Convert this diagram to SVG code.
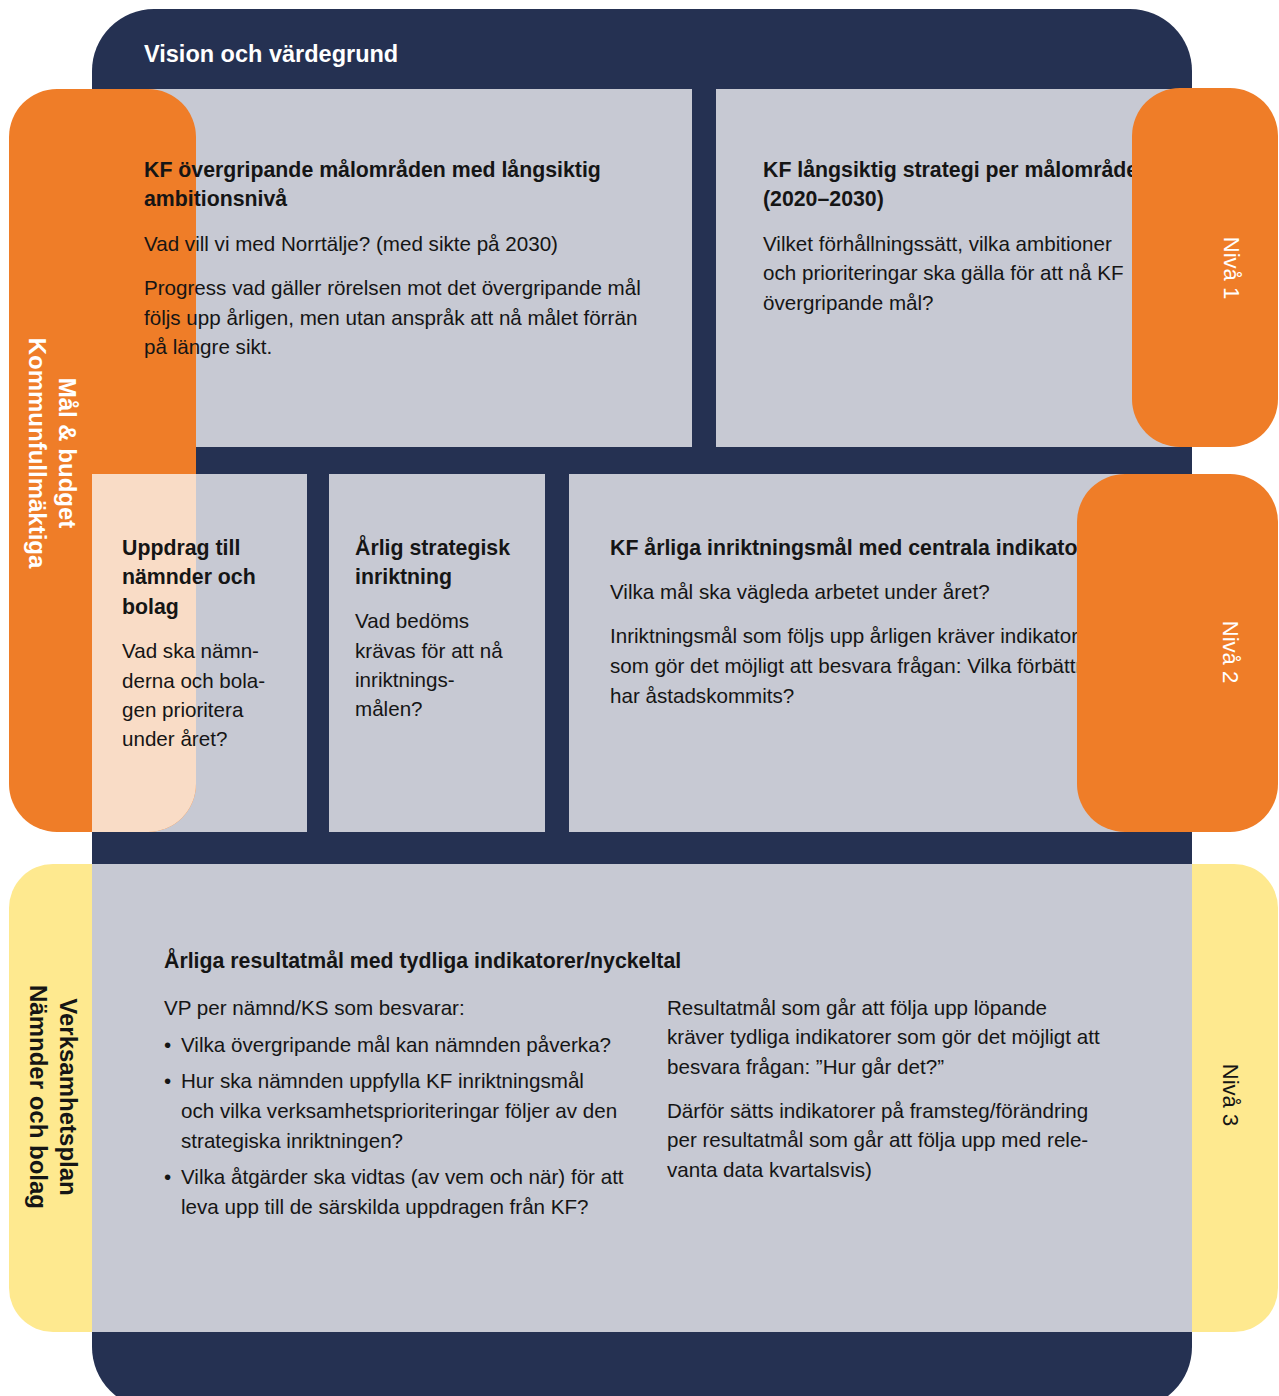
<svg xmlns="http://www.w3.org/2000/svg" width="1279" height="1396" viewBox="0 0 1279 1396">
<style>
text{font-family:"Liberation Sans",Arial,Helvetica,sans-serif;fill:#151515}
.b{font-weight:bold;font-size:21.3px}
.r{font-size:20.6px}
.w{fill:#ffffff}
.tab{font-family:"Liberation Sans",Arial,sans-serif;font-weight:bold;font-size:24px}
.niva{font-size:22px}
.navy{fill:#253152}
.gray{fill:#C7C9D3}
.orange{fill:#EF7D28}
.yellow{fill:#FEE98F}
</style>
<rect width="1279" height="1396" fill="#ffffff"/>
<g id="frame">
<rect class="navy" x="92" y="9" width="1100" height="1400" rx="62"/>
<text class="w" x="144" y="62" font-weight="bold" font-size="23.5">Vision och värdegrund</text>
</g>
<g id="panels">
<rect id="p-top-left" class="gray" x="92" y="89" width="600" height="358"/>
<rect id="p-top-right" class="gray" x="716" y="89" width="476" height="358"/>
<rect id="p-mid-1" class="gray" x="92" y="474" width="215" height="358"/>
<rect id="p-mid-2" class="gray" x="329" y="474" width="216" height="358"/>
<rect id="p-mid-3" class="gray" x="569" y="474" width="623" height="358"/>
<path id="yellow-left" class="yellow" d="M92,864 H53 A44,44 0 0 0 9,908 V1288 A44,44 0 0 0 53,1332 H92 Z"/>
<path id="yellow-right" class="yellow" d="M1192,864 H1234 A44,44 0 0 1 1278,908 V1288 A44,44 0 0 1 1234,1332 H1192 Z"/>
<rect id="p-bottom" class="gray" x="92" y="864" width="1100" height="468"/>
</g>
<g id="tab-left">
<rect class="orange" x="9" y="89" width="187" height="743" rx="48"/>
<path fill="#F9DCC6" d="M92,474 H196 V784 A48,48 0 0 1 148,832 H92 Z"/>
<text class="tab w" transform="translate(59,453) rotate(90)" text-anchor="middle">Mål &amp; budget</text>
<text class="tab w" transform="translate(29,453) rotate(90)" text-anchor="middle">Kommunfullmäktiga</text>
</g>
<g id="node-top-left">
<text class="b" x="144" y="177">KF övergripande målområden med långsiktig</text>
<text class="b" x="144" y="206">ambitionsnivå</text>
<text class="r" x="144" y="251">Vad vill vi med Norrtälje? (med sikte på 2030)</text>
<text class="r" x="144" y="295">Progress vad gäller rörelsen mot det övergripande mål</text>
<text class="r" x="144" y="325">följs upp årligen, men utan anspråk att nå målet förrän</text>
<text class="r" x="144" y="354">på längre sikt.</text>
</g>
<g id="node-top-right">
<text class="b" x="763" y="177">KF långsiktig strategi per målområde</text>
<text class="b" x="763" y="206">(2020–2030)</text>
<text class="r" x="763" y="251">Vilket förhållningssätt, vilka ambitioner</text>
<text class="r" x="763" y="280">och prioriteringar ska gälla för att nå KF</text>
<text class="r" x="763" y="310">övergripande mål?</text>
</g>
<g id="node-mid-1">
<text class="b" x="122" y="555">Uppdrag till</text>
<text class="b" x="122" y="584">nämnder och</text>
<text class="b" x="122" y="614">bolag</text>
<text class="r" x="122" y="658">Vad ska nämn-</text>
<text class="r" x="122" y="688">derna och bola-</text>
<text class="r" x="122" y="717">gen prioritera</text>
<text class="r" x="122" y="746">under året?</text>
</g>
<g id="node-mid-2">
<text class="b" x="355" y="555">Årlig strategisk</text>
<text class="b" x="355" y="584">inriktning</text>
<text class="r" x="355" y="628">Vad bedöms</text>
<text class="r" x="355" y="658">krävas för att nå</text>
<text class="r" x="355" y="687">inriktnings-</text>
<text class="r" x="355" y="716">målen?</text>
</g>
<g id="node-mid-3">
<text class="b" x="610" y="555">KF årliga inriktningsmål med centrala indikatorer</text>
<text class="r" x="610" y="599">Vilka mål ska vägleda arbetet under året?</text>
<text class="r" x="610" y="643">Inriktningsmål som följs upp årligen kräver indikatorer</text>
<text class="r" x="610" y="673">som gör det möjligt att besvara frågan: Vilka förbättringar</text>
<text class="r" x="610" y="703">har åstadskommits?</text>
</g>
<g id="node-bottom">
<text class="b" x="164" y="968">Årliga resultatmål med tydliga indikatorer/nyckeltal</text>
<text class="r" x="164" y="1015">VP per nämnd/KS som besvarar:</text>
<text class="r" x="164" y="1052">•</text>
<text class="r" x="181" y="1052">Vilka övergripande mål kan nämnden påverka?</text>
<text class="r" x="164" y="1088">•</text>
<text class="r" x="181" y="1088">Hur ska nämnden uppfylla KF inriktningsmål</text>
<text class="r" x="181" y="1118">och vilka verksamhetsprioriteringar följer av den</text>
<text class="r" x="181" y="1148">strategiska inriktningen?</text>
<text class="r" x="164" y="1184">•</text>
<text class="r" x="181" y="1184">Vilka åtgärder ska vidtas (av vem och när) för att</text>
<text class="r" x="181" y="1214">leva upp till de särskilda uppdragen från KF?</text>
<text class="r" x="667" y="1015">Resultatmål som går att följa upp löpande</text>
<text class="r" x="667" y="1044">kräver tydliga indikatorer som gör det möjligt att</text>
<text class="r" x="667" y="1074">besvara frågan: ”Hur går det?”</text>
<text class="r" x="667" y="1118">Därför sätts indikatorer på framsteg/förändring</text>
<text class="r" x="667" y="1147">per resultatmål som går att följa upp med rele-</text>
<text class="r" x="667" y="1177">vanta data kvartalsvis)</text>
</g>
<g id="tab-bottom-left">
<text class="tab" transform="translate(60,1097) rotate(90)" text-anchor="middle">Verksamhetsplan</text>
<text class="tab" transform="translate(30,1097) rotate(90)" text-anchor="middle">Nämnder och bolag</text>
</g>
<g id="niva-1">
<rect class="orange" x="1132" y="88" width="146" height="359" rx="48"/>
<text class="niva w" transform="translate(1224,268) rotate(90)" text-anchor="middle">Nivå 1</text>
</g>
<g id="niva-2">
<rect class="orange" x="1077" y="474" width="201" height="358" rx="48"/>
<text class="niva w" transform="translate(1223,652) rotate(90)" text-anchor="middle">Nivå 2</text>
</g>
<g id="niva-3">
<text class="niva" transform="translate(1223,1095) rotate(90)" text-anchor="middle">Nivå 3</text>
</g>
<g id="connectors"></g>
</svg>
